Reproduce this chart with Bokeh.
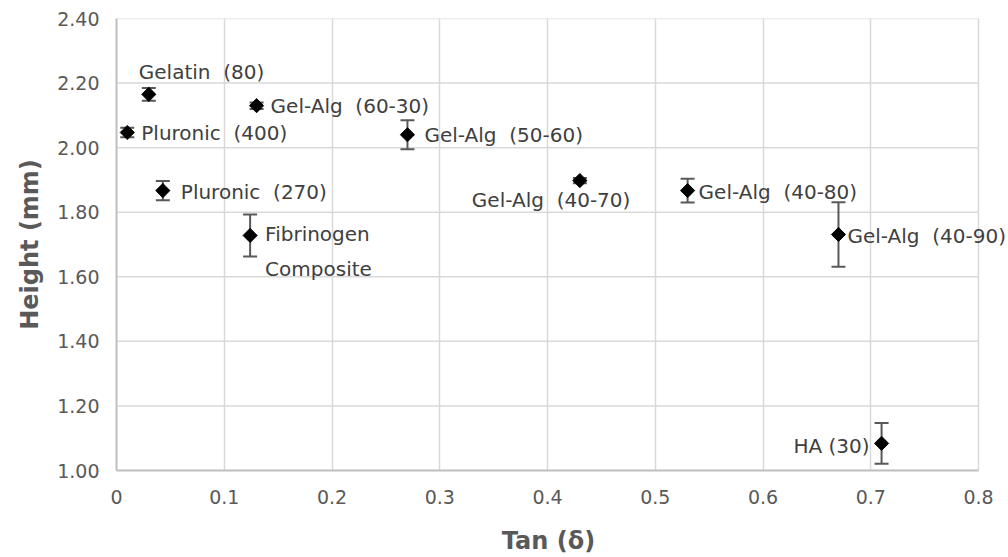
import math
from bokeh.plotting import figure
from bokeh.models import ColumnDataSource, Whisker, TeeHead, FixedTicker, NumeralTickFormatter, Range1d, LabelSet
from bokeh.core.properties import value
from bokeh.embed import file_html
from bokeh.resources import INLINE

NB = "\u00a0\u00a0"
names = ["Gelatin" + NB + "(80)", "Gel-Alg" + NB + "(60-30)", "Pluronic" + NB + "(400)",
         "Gel-Alg" + NB + "(50-60)", "Gel-Alg" + NB + "(40-70)", "Pluronic" + NB + "(270)",
         "Fibrinogen\nComposite", "Gel-Alg" + NB + "(40-80)", "Gel-Alg" + NB + "(40-90)", "HA (30)"]
tan_delta = [0.03, 0.13, 0.01, 0.27, 0.43, 0.043, 0.124, 0.53, 0.67, 0.71]
height = [2.165, 2.13, 2.047, 2.04, 1.898, 1.867, 1.728, 1.867, 1.731, 1.084]
err = [0.02, 0.01, 0.015, 0.045, 0.008, 0.03, 0.065, 0.037, 0.10, 0.063]

x_ticks = [0, 0.1, 0.2, 0.3, 0.4, 0.5, 0.6, 0.7, 0.8]
y_ticks = [1.0, 1.2, 1.4, 1.6, 1.8, 2.0, 2.2, 2.4]
X_MIN, X_MAX = 0.0, 0.8
Y_MIN, Y_MAX = 1.0, 2.4

# label placement (styles, not data)
lab_dx = [-10, 14, 14, 17, -108, 18, 15, 11, 9, -12]
lab_dy = [22, 0, -1, 0, -19, -1, -16, -1, -2, -3]
lab_align = ["left", "left", "left", "left", "left", "left", "left", "left", "left", "right"]

src = ColumnDataSource(dict(
    x=tan_delta, y=height,
    lo=[h - e for h, e in zip(height, err)],
    hi=[h + e for h, e in zip(height, err)],
    name=names, dx=lab_dx, dy=lab_dy, align=lab_align,
))

FONT = "DejaVu Sans"

# the frame extends a little past 0.8 so that the last data label is not clipped
p = figure(width=1008, height=557, output_backend="svg", toolbar_location=None,
           x_range=Range1d(X_MIN, 0.825), y_range=Range1d(Y_MIN, Y_MAX),
           min_border_left=116, min_border_right=3, min_border_top=18, min_border_bottom=87)
p.outline_line_color = None
p.background_fill_color = "white"
p.border_fill_color = "white"

p.xaxis.ticker = FixedTicker(ticks=x_ticks)
p.yaxis.ticker = FixedTicker(ticks=y_ticks)
p.xaxis.formatter = NumeralTickFormatter(format="0.[0]")
p.yaxis.formatter = NumeralTickFormatter(format="0.00")
p.xaxis.bounds = (X_MIN, X_MAX)

for ax in (p.xaxis, p.yaxis):
    ax.axis_line_color = "#bfbfbf"
    ax.axis_line_width = 2
    ax.major_tick_line_color = None
    ax.minor_tick_line_color = None
    ax.major_tick_out = 0
    ax.major_tick_in = 0
    ax.major_label_text_color = "#595959"
    ax.major_label_text_font = FONT
    ax.major_label_text_font_size = "19px"
    ax.axis_label_text_color = "#595959"
    ax.axis_label_text_font = FONT
    ax.axis_label_text_font_size = "24px"
    ax.axis_label_text_font_style = "bold"

# trailing no-break spaces re-centre the title under the 0..0.8 span
p.xaxis.axis_label = "Tan (δ)" + "\u00a0" * 3
p.yaxis.axis_label = "Height (mm)"
p.xaxis.major_label_standoff = 19
p.yaxis.major_label_standoff = 17
p.xaxis.axis_label_standoff = 20
p.yaxis.axis_label_standoff = 10

p.xgrid.grid_line_color = "#d9d9d9"
p.xgrid.grid_line_width = 1.5
p.ygrid.visible = False
# horizontal gridlines limited to the 0..0.8 span
p.segment(x0=[X_MIN] * len(y_ticks), x1=[X_MAX] * len(y_ticks), y0=y_ticks, y1=y_ticks,
          line_color="#d9d9d9", line_width=1.5, level="underlay")

wh = Whisker(source=src, base="x", lower="lo", upper="hi", dimension="height",
             line_color="#595959", line_width=2,
             upper_head=TeeHead(size=14, line_color="#595959", line_width=2),
             lower_head=TeeHead(size=14, line_color="#595959", line_width=2))
p.add_layout(wh)

p.scatter("x", "y", source=src, marker="square", size=10, angle=math.pi / 4, color="black")

labels = LabelSet(x="x", y="y", text="name", source=src, x_offset="dx", y_offset="dy",
                  text_align="align", text_baseline="middle",
                  text_font=value(FONT), text_font_size="20px",
                  text_color="#404040", text_line_height=1.45)
p.add_layout(labels)

open("out.html", "w").write(file_html(p, INLINE))
